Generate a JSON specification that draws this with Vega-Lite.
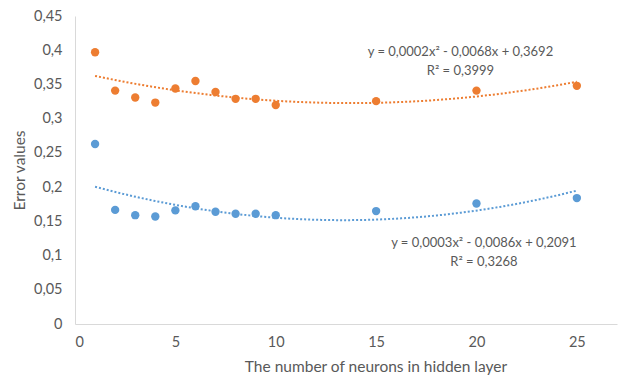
{
  "$schema": "https://vega.github.io/schema/vega-lite/v6.json",
  "width": 542,
  "height": 308,
  "autosize": {"type": "none"},
  "padding": {"left": 75, "top": 16, "right": 2, "bottom": 56},
  "background": "white",
  "config": {
    "view": {"stroke": null},
    "font": "Lato",
    "axis": {
      "labelFont": "Lato", "titleFont": "Lato",
      "labelColor": "#595959", "titleColor": "#595959",
      "labelFontSize": 14.5, "titleFontSize": 15.5, "titleFontWeight": "normal",
      "grid": false, "ticks": false, "domainColor": "#d9d9d9", "domainWidth": 1
    }
  },
  "datasets": {
    "points": [
      {"n": 1, "error": 0.397, "series": "A"},
      {"n": 2, "error": 0.341, "series": "A"},
      {"n": 3, "error": 0.331, "series": "A"},
      {"n": 4, "error": 0.3235, "series": "A"},
      {"n": 5, "error": 0.344, "series": "A"},
      {"n": 6, "error": 0.355, "series": "A"},
      {"n": 7, "error": 0.339, "series": "A"},
      {"n": 8, "error": 0.329, "series": "A"},
      {"n": 9, "error": 0.329, "series": "A"},
      {"n": 10, "error": 0.32, "series": "A"},
      {"n": 15, "error": 0.3256, "series": "A"},
      {"n": 20, "error": 0.341, "series": "A"},
      {"n": 25, "error": 0.348, "series": "A"},
      {"n": 1, "error": 0.263, "series": "B"},
      {"n": 2, "error": 0.1667, "series": "B"},
      {"n": 3, "error": 0.159, "series": "B"},
      {"n": 4, "error": 0.157, "series": "B"},
      {"n": 5, "error": 0.166, "series": "B"},
      {"n": 6, "error": 0.172, "series": "B"},
      {"n": 7, "error": 0.164, "series": "B"},
      {"n": 8, "error": 0.161, "series": "B"},
      {"n": 9, "error": 0.161, "series": "B"},
      {"n": 10, "error": 0.159, "series": "B"},
      {"n": 15, "error": 0.165, "series": "B"},
      {"n": 20, "error": 0.176, "series": "B"},
      {"n": 25, "error": 0.184, "series": "B"}
    ],
    "labels": [
      {"n": 19.2, "error": 0.3977, "series": "A", "label": "y = 0,0002x² - 0,0068x + 0,3692"},
      {"n": 19.2, "error": 0.3699, "series": "A", "label": "R² = 0,3999"},
      {"n": 20.37, "error": 0.1181, "series": "B", "label": "y = 0,0003x² - 0,0086x + 0,2091"},
      {"n": 20.37, "error": 0.0903, "series": "B", "label": "R² = 0,3268"}
    ]
  },
  "encoding": {
    "x": {
      "field": "n", "type": "quantitative",
      "scale": {"domain": [0, 27], "nice": false, "zero": false},
      "axis": {"values": [0, 5, 10, 15, 20, 25], "title": "The number of neurons in hidden layer", "labelPadding": 11, "titlePadding": 11, "titleX": 300.5}
    },
    "y": {
      "field": "error", "type": "quantitative",
      "scale": {"domain": [0, 0.45], "nice": false},
      "axis": {"values": [0, 0.05, 0.1, 0.15, 0.2, 0.25, 0.3, 0.35, 0.4, 0.45], "labelExpr": "replace(format(datum.value, '.2~f'), '.', ',')", "title": "Error values", "labelPadding": 13, "titlePadding": 6}
    },
    "color": {
      "field": "series", "type": "nominal",
      "scale": {"domain": ["A", "B"], "range": ["#ED7D31", "#5B9BD5"]},
      "legend": null
    }
  },
  "layer": [
    {
      "data": {"name": "points"},
      "transform": [
        {"regression": "error", "on": "n", "groupby": ["series"], "method": "poly", "order": 2, "extent": [1, 25]}
      ],
      "mark": {"type": "line", "strokeDash": [2, 2], "strokeWidth": 2}
    },
    {
      "data": {"name": "points"},
      "mark": {"type": "circle", "size": 70, "opacity": 1}
    },
    {
      "data": {"name": "labels"},
      "mark": {"type": "text", "align": "center", "baseline": "middle", "fontSize": 13, "color": "#595959"},
      "encoding": {"text": {"field": "label"}, "color": {"value": "#595959"}}
    }
  ]
}
